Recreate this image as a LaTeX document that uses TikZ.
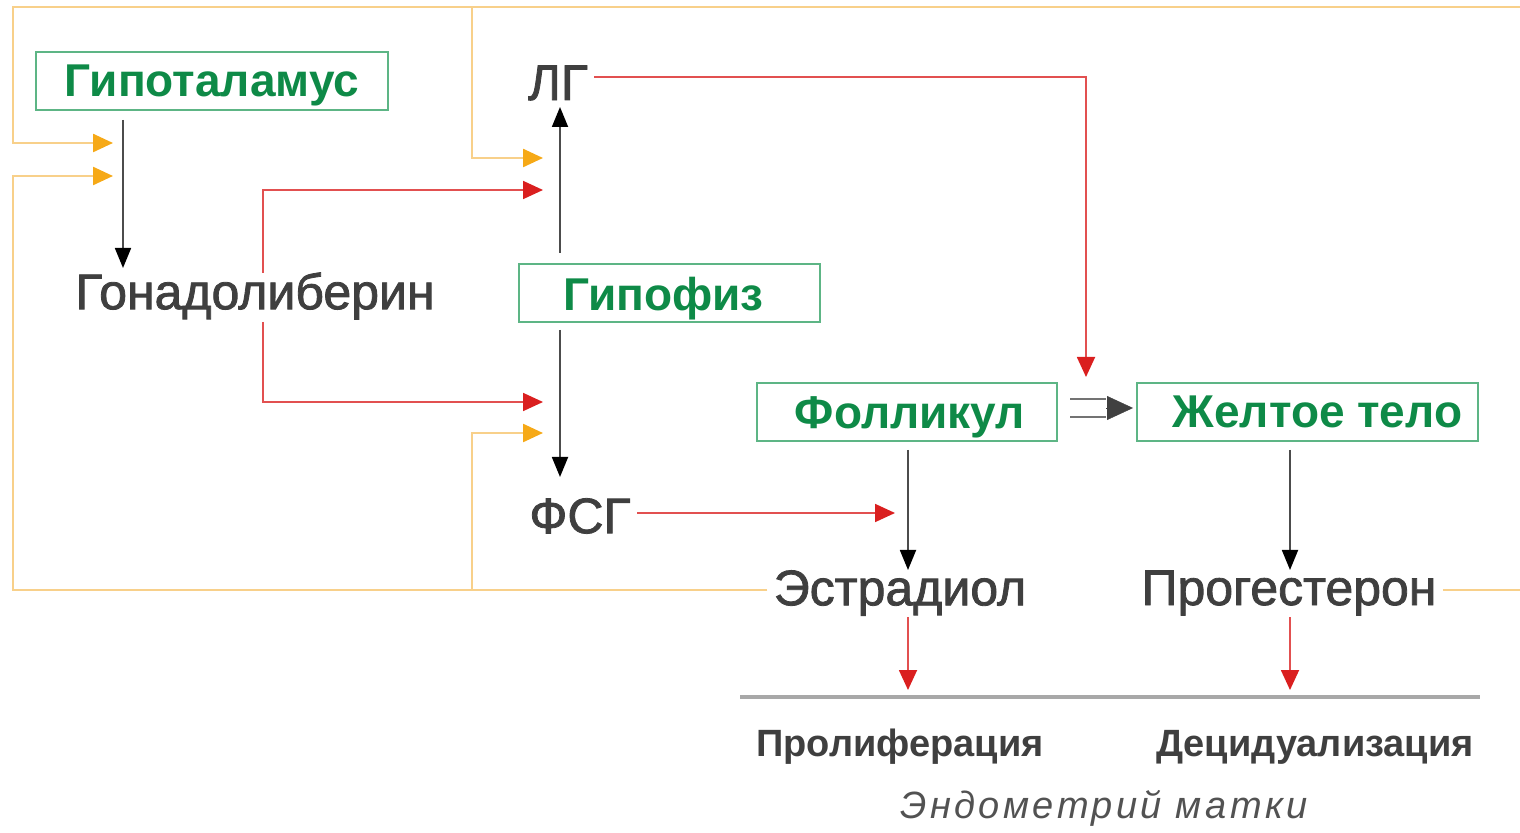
\documentclass[tikz,border=0pt]{standalone}
\usepackage{fontspec}
\setmainfont{Liberation Sans}
\newfontfamily\hormfont[FakeBold=1.6]{Liberation Sans}
\usetikzlibrary{arrows.meta}
\definecolor{grn}{HTML}{0E8A47}
\definecolor{grnbox}{HTML}{5DB585}
\definecolor{txt}{HTML}{3F3F3F}
\definecolor{orl}{HTML}{F8D08A}
\definecolor{ora}{HTML}{F6A917}
\definecolor{redl}{HTML}{E25050}
\definecolor{reda}{HTML}{DA1F1F}
\definecolor{gl}{HTML}{A8A8A8}
\tikzset{
  organ/.style={draw=grnbox, line width=1pt, text=grn, font=\fontsize{23}{26}\selectfont\bfseries, minimum height=29pt, inner sep=0pt, text depth=0pt},
  horm/.style={text=txt, font=\hormfont\fontsize{25}{28}\selectfont, inner sep=3pt},
  effect/.style={text=txt, font=\fontsize{19}{22}\selectfont\bfseries, inner sep=0pt},
  blk/.style={draw=black!70, line width=0.9pt, -{Triangle[length=10pt,width=8pt,color=black]}},
  redarr/.style={draw=redl, line width=0.9pt, -{Triangle[length=10pt,width=9pt,color=reda]}},
  yelarr/.style={draw=orl, line width=1.2pt, -{Triangle[length=10pt,width=9pt,color=ora]}},
}
\begin{document}
\begin{tikzpicture}[x=0.5pt,y=-0.5pt]
\useasboundingbox (0,0) rectangle (1520,833);
% nodes
\node[organ, minimum width=176pt] (hyp) at (212,81) {Гипоталамус};
\node[organ, minimum width=150.5pt] (pit) at (669.5,293.5) {\hspace*{-6pt}Гипофиз};
\node[organ, minimum width=150pt] (fol) at (907,412.5) {\hspace*{3pt}Фолликул};
\node[organ, minimum width=170.5pt] (ct) at (1307.5,412) {\hspace*{10pt}Желтое тело};
\node[horm] (lg) at (558,83) {ЛГ};
\node[horm] (gon) at (255,296) {Гонадолиберин};
\node[horm] (fsg) at (580,516) {ФСГ};
\node[horm] (est) at (900,593) {Эстрадиол};
\node[horm] (prog) at (1289,593) {Прогестерон};
\node[effect] (prol) at (900,747) {Пролиферация};
\node[effect] (dec) at (1315,747) {Децидуализация};
\node[text=txt!90, font=\fontsize{19}{22}\selectfont\itshape\addfontfeature{LetterSpace=9}] (endo) at (1104,808) {Эндометрий матки};
% coordinates
\coordinate (hypOut) at (123,120);
\coordinate (gonIn) at (123,268);
\coordinate (pitUp) at (560,253);
\coordinate (lgIn) at (560,107);
\coordinate (pitDn) at (560,330);
\coordinate (fsgIn) at (560,477);
\coordinate (folOut) at (908,450);
\coordinate (estIn) at (908,570);
\coordinate (ctOut) at (1290,450);
\coordinate (progIn) at (1290,570);
\coordinate (gonUp) at (263,273);
\coordinate (lgRed) at (543,190);
\coordinate (gonDn) at (263,322);
\coordinate (fsgRed) at (543,402);
\coordinate (lgC) at (1086,77);
\coordinate (ctRed) at (1086,377);
\coordinate (folRed) at (895,513);
\coordinate (estOut) at (908,617);
\coordinate (prolIn) at (908,690);
\coordinate (progOut) at (1290,617);
\coordinate (decIn) at (1290,690);
\coordinate (uL) at (740,697);
\coordinate (uR) at (1480,697);
% yellow feedback
\coordinate (rB) at (1535,590);
\coordinate (rT) at (1535,7);
\coordinate (lT) at (13,7);
\coordinate (hypY1) at (113,143);
\coordinate (brT) at (472,7);
\coordinate (lgY) at (543,158);
\coordinate (lB) at (13,590);
\coordinate (hypY2) at (113,176);
\coordinate (brB) at (472,590);
\coordinate (fsgY) at (543,433);
\draw[yelarr] (prog.east |- rB) -- (rB) -- (rT) -- (lT) |- (hypY1);
\draw[yelarr] (brT) |- (lgY);
\draw[yelarr] (est.west |- lB) -- (lB) |- (hypY2);
\draw[yelarr] (brB) |- (fsgY);
% black
\draw[blk] (hypOut) -- (gonIn);
\draw[blk] (pitUp) -- (lgIn);
\draw[blk] (pitDn) -- (fsgIn);
\draw[blk] (folOut) -- (estIn);
\draw[blk] (ctOut) -- (progIn);
% red
\draw[redarr] (gonUp) |- (lgRed);
\draw[redarr] (gonDn) |- (fsgRed);
\draw[redarr] (lg.east |- lgC) -- (lgC) -- (ctRed);
\draw[redarr] (fsg.east |- folRed) -- (folRed);
\draw[redarr] (estOut) -- (prolIn);
\draw[redarr] (progOut) -- (decIn);
% follicle => corpus luteum
\coordinate (dA) at (1070,408);
\coordinate (dB) at (1106,408);
\coordinate (dC) at (1133,408);
\draw[black!55, line width=0.8pt] ([yshift=4.5]dA) -- ([yshift=4.5]dB);
\draw[black!55, line width=0.8pt] ([yshift=-4.5]dA) -- ([yshift=-4.5]dB);
\draw[black!75, line width=0.2pt, -{Triangle[length=13pt,width=12pt,color=black!75]}] (dB) -- (dC);
% endometrium line
\draw[gl, line width=1.6pt] (uL) -- (uR);
\end{tikzpicture}
\end{document}
